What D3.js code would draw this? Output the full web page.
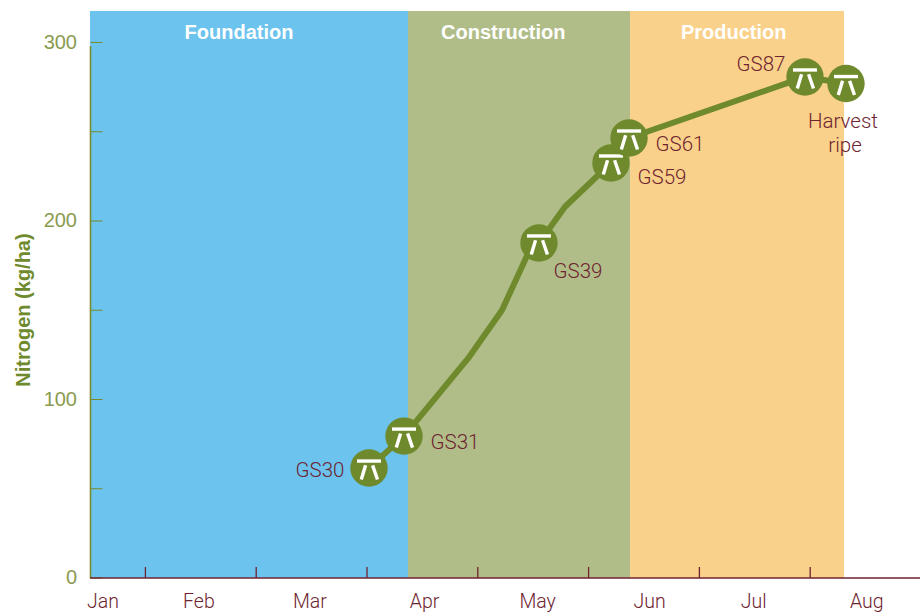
<!DOCTYPE html>
<html><head><meta charset="utf-8">
<script src="https://cdn.jsdelivr.net/npm/d3@7"></script>
<style>html,body{margin:0;padding:0;background:#fff;overflow:hidden}svg{display:block}</style>
</head><body><svg id="c" width="920" height="612"></svg>
<script>
const monthLabels=["Jan","Feb","Mar","Apr","May","Jun","Jul","Aug"];
const monthLabelPos=[0.117,0.983,1.985,3.02,4.04,5.05,5.99,7.01];
const monthTicks=[0.5,1.5,2.5,3.5,4.5,5.5,6.5];
const phaseNames=["Foundation","Construction","Production"];
const phaseStart=[0,2.87,4.874];
const phaseEnd=[2.87,4.874,6.805];
const phaseLabelPos=[1.345,3.73,5.81];
const phaseColors=["#6bc3ee","#b1bd88","#fad18a"];
const lineMonths=[2.518,2.834,3.412,3.718,3.94,4.052,4.287,4.702,4.865,6.453,6.823];
const lineN=[61.6,79.5,123,150,180,187.7,208,232.5,246.5,280.7,277];
const stageNames=["GS30","GS31","GS39","GS59","GS61","GS87","Harvest ripe"];
const stageMonths=[2.518,2.834,4.052,4.702,4.865,6.453,6.823];
const stageN=[61.6,79.5,187.7,232.5,246.5,280.7,277];
const yMajor=[0,100,200,300];
const yMinor=[50,150,250];

const x=d3.scaleLinear().domain([0,7.491]).range([90,920]);
const y=d3.scaleLinear().domain([0,300]).range([578,42.5]);
const svg=d3.select("#c");
const olive="#6f8a2c", axisOlive="#7b8a2a", maroon="#6e2330";
const roboto="Roboto", helv="Liberation Sans";

const yTop=y.invert(11);
svg.append("g").selectAll("rect").data(phaseNames).join("rect")
  .attr("x",(d,i)=>x(phaseStart[i])).attr("width",(d,i)=>x(phaseEnd[i])-x(phaseStart[i]))
  .attr("y",y(yTop)).attr("height",y(0)-y(yTop)).attr("fill",(d,i)=>phaseColors[i]);
svg.append("g").selectAll("text").data(phaseNames).join("text")
  .attr("x",(d,i)=>x(phaseLabelPos[i])).attr("y",39).attr("text-anchor","middle")
  .attr("fill","#fff").attr("font-size",20).attr("font-weight",700).attr("font-family",helv).text(d=>d);

const yAxis=d3.axisRight(y).tickValues(yMajor.concat(yMinor)).tickSize(12).tickFormat("").offset(0);
const gy=svg.append("g").attr("transform","translate(90.5,0)").call(yAxis);
gy.select(".domain").remove();
gy.selectAll("line").attr("stroke",axisOlive).attr("stroke-width",1);
svg.append("line").attr("x1",90.5).attr("x2",90.5).attr("y1",y(298)).attr("y2",y(0)).attr("stroke",axisOlive).attr("stroke-width",1.6);
svg.append("g").selectAll("text").data(yMajor).join("text")
  .attr("x",77).attr("y",d=>y(d)+6).attr("text-anchor","end").attr("fill","#8a9b50")
  .attr("font-size",20).attr("font-family",helv).text(d=>d);
svg.append("text").attr("transform","translate(29.5,310) rotate(-90)").attr("text-anchor","middle")
  .attr("fill",olive).attr("font-size",20).attr("font-weight",700).attr("font-family",helv).text("Nitrogen (kg/ha)");

const xAxis=d3.axisBottom(x).tickValues(monthTicks).tickSize(-11).tickFormat("").offset(0);
const gx=svg.append("g").attr("transform","translate(0,578)").call(xAxis);
gx.select(".domain").remove();
gx.selectAll("line").attr("stroke",maroon).attr("stroke-width",1.3);
svg.append("line").attr("x1",x(0)).attr("x2",920).attr("y1",578).attr("y2",578).attr("stroke",maroon).attr("stroke-width",1.6);
svg.append("g").selectAll("text").data(monthLabels).join("text")
  .attr("x",(d,i)=>x(monthLabelPos[i])).attr("y",607.5).attr("text-anchor","middle")
  .attr("fill",maroon).attr("font-size",19.5).attr("font-weight",300).attr("font-family",roboto).text(d=>d);

const line=d3.line().x((d,i)=>x(lineMonths[i])).y((d,i)=>y(lineN[i]));
svg.append("path").attr("d",line(lineN)).attr("fill","none").attr("stroke",olive).attr("stroke-width",6).attr("stroke-linejoin","round");

const icons=svg.append("g").selectAll("g").data(stageNames).join("g")
  .attr("transform",(d,i)=>`translate(${x(stageMonths[i])},${y(stageN[i])})`);
icons.append("circle").attr("r",18.7).attr("fill",olive);
icons.append("path").attr("fill","none").attr("stroke","#fff")
  .attr("d","M-12,-7H12").attr("stroke-width",3.4);
icons.append("path").attr("fill","none").attr("stroke","#fff").attr("stroke-width",3.4)
  .attr("d","M-3.4,-2.7L-7.7,11.5M3.6,-2.7L8.5,11.5");

const stageLabels=[["GS30",[320],[477]],["GS31",[455],[449]],["GS39",[578],[278]],["GS59",[662],[184]],["GS61",[680],[151]],["GS87",[761],[71]],["Harvest",[843],[128]],["ripe",[845],[152]]];
svg.append("g").selectAll("text").data(stageLabels).join("text")
  .attr("x",d=>d[1][0]).attr("y",d=>d[2][0]).attr("text-anchor","middle")
  .attr("fill",maroon).attr("font-size",20.5).attr("font-weight",300).attr("font-family",roboto).text(d=>d[0]);
</script></body></html>
